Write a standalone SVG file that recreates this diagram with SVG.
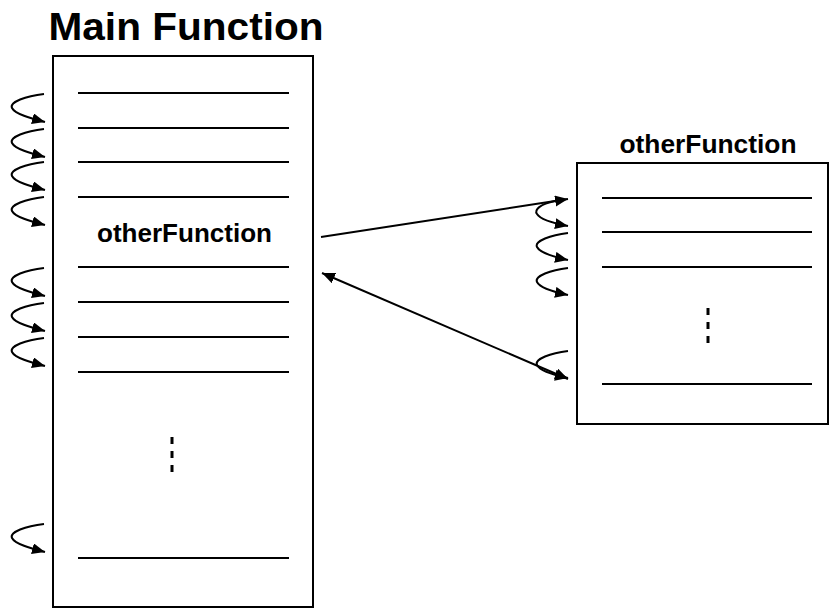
<svg xmlns="http://www.w3.org/2000/svg" width="830" height="608" viewBox="0 0 830 608">
  <style>
    .box { fill: #fff; stroke: #000; stroke-width: 2; }
    .row { stroke: #000; stroke-width: 2; fill: none; }
    .dots { stroke: #000; stroke-width: 3; stroke-dasharray: 7 7; fill: none; }
    .title { font-family: "Liberation Sans", Arial, Helvetica, sans-serif; font-weight: bold; fill: #000; }
    .curl { stroke: #000; stroke-width: 2; fill: none; marker-end: url(#head); }
    .link { stroke: #000; stroke-width: 2; fill: none; }
  </style>
  <defs>
    <marker id="head" markerUnits="userSpaceOnUse" markerWidth="14" markerHeight="12" refX="13" refY="5.5" orient="auto-start-reverse" viewBox="0 0 14 12">
      <path d="M0,0 L13,5.5 L0,11 Z" fill="#000"/>
    </marker>
    <!-- one self-call curl, positioned with translate -->
    <path id="curlL" class="curl" d="M44,0 C26,2 9,8 12,14 C15,20 30,24 45,28"/>
    <path id="curlR" class="curl" d="M31,0 C14,2 -3,8 0,14 C3,20 17,24 31,27"/>
  </defs>

  <!-- main function -->
  <g id="main-function">
    <text class="title" x="186" y="40" font-size="38" text-anchor="middle" textLength="275" lengthAdjust="spacingAndGlyphs">Main Function</text>
    <rect class="box" x="53" y="56" width="260" height="551"/>
    <line class="row" x1="78" y1="93" x2="289" y2="93"/>
    <line class="row" x1="78" y1="128" x2="289" y2="128"/>
    <line class="row" x1="78" y1="162" x2="289" y2="162"/>
    <line class="row" x1="78" y1="197" x2="289" y2="197"/>
    <text class="title" x="184.5" y="242" font-size="25" text-anchor="middle" textLength="175" lengthAdjust="spacingAndGlyphs">otherFunction</text>
    <line class="row" x1="78" y1="267" x2="289" y2="267"/>
    <line class="row" x1="78" y1="302" x2="289" y2="302"/>
    <line class="row" x1="78" y1="337" x2="289" y2="337"/>
    <line class="row" x1="78" y1="372" x2="289" y2="372"/>
    <line class="dots" x1="172" y1="437" x2="172" y2="472"/>
    <line class="row" x1="78" y1="558" x2="289" y2="558"/>
  </g>

  <!-- other function -->
  <g id="other-function">
    <text class="title" x="708" y="153" font-size="25" text-anchor="middle" textLength="177" lengthAdjust="spacingAndGlyphs">otherFunction</text>
    <rect class="box" x="577" y="163" width="251" height="261"/>
    <line class="row" x1="602" y1="198" x2="812" y2="198"/>
    <line class="row" x1="602" y1="232" x2="812" y2="232"/>
    <line class="row" x1="602" y1="267" x2="812" y2="267"/>
    <line class="dots" x1="708" y1="308" x2="708" y2="343"/>
    <line class="row" x1="602" y1="384" x2="812" y2="384"/>
  </g>

  <!-- control-flow connectors -->
  <g id="connectors">
    <use href="#curlL" x="0" y="94"/>
    <use href="#curlL" x="0" y="129"/>
    <use href="#curlL" x="0" y="162"/>
    <use href="#curlL" x="0" y="197"/>
    <use href="#curlL" x="0" y="268"/>
    <use href="#curlL" x="0" y="303"/>
    <use href="#curlL" x="0" y="338"/>
    <use href="#curlL" x="0" y="524"/>

    <line class="link" x1="321" y1="237" x2="568" y2="199" marker-end="url(#head)"/>
    <line class="link" x1="322" y1="273" x2="568" y2="379" marker-start="url(#head)" marker-end="url(#head)"/>

    <path class="curl" d="M555,201 C540,204 534,210 537,214 C540,219 552,223 568,226"/>
    <use href="#curlR" x="537" y="233"/>
    <use href="#curlR" x="537" y="268"/>
    <use href="#curlR" x="537" y="351"/>
  </g>
</svg>
